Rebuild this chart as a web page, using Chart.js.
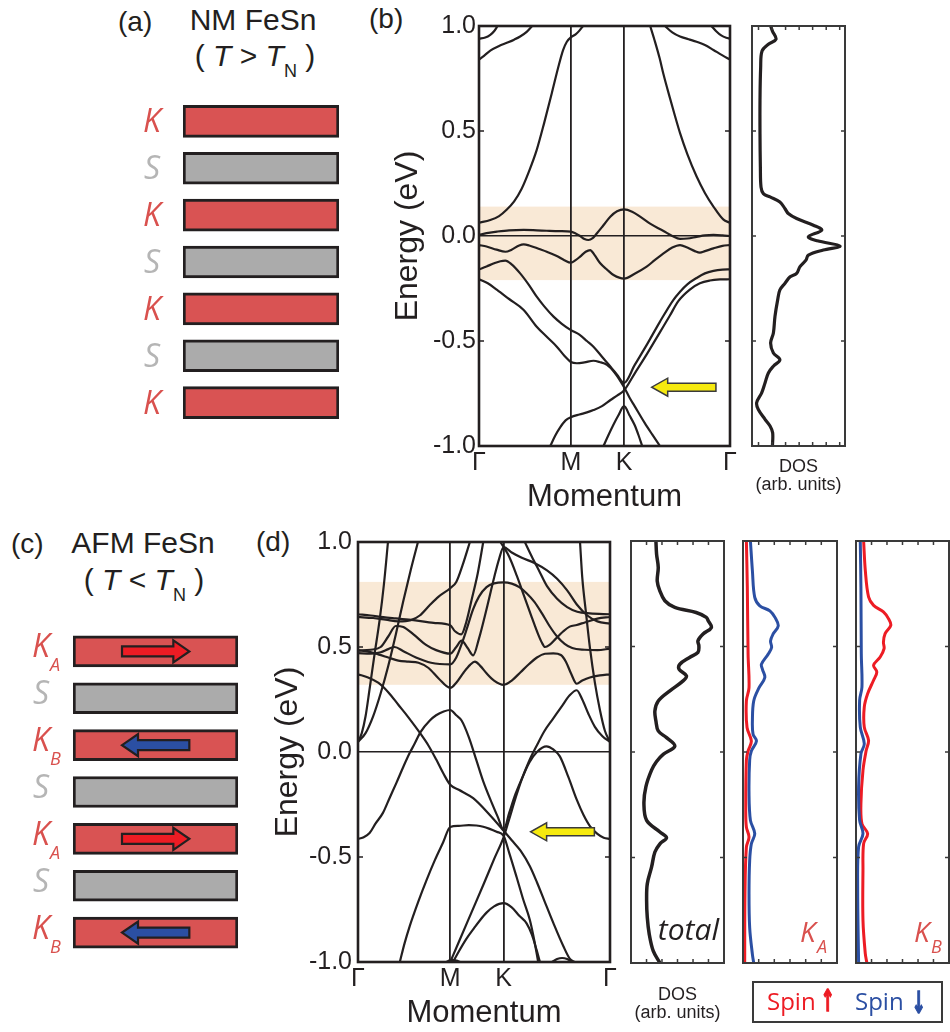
<!DOCTYPE html>
<html>
<head>
<meta charset="utf-8">
<script src="https://cdn.jsdelivr.net/npm/chart.js@4.4.1/dist/chart.umd.min.js"></script>
<style>
html,body{margin:0;padding:0;background:#fff;}
#page{position:relative;width:950px;height:1032px;overflow:hidden;background:#fff;font-family:"Liberation Sans",Arial,sans-serif;color:#231f20;}
.box{position:absolute;}
.box canvas{display:block;}
.t{position:absolute;white-space:nowrap;line-height:1;}
.it{font-style:italic;}
.os{font-family:"Open Sans",sans-serif;}
.arr{font-family:'DejaVu Sans';font-weight:bold;font-size:30px;-webkit-text-stroke:1.6px currentColor;transform:scaleX(0.55);}
</style>
</head>
<body>
<div id="page">
  <!-- panel (a) titles -->
  <div class="t" style="left:118px;top:8px;font-size:28px;">(a)</div>
  <div class="t" style="left:153px;top:5px;width:200px;text-align:center;font-size:30px;">NM FeSn</div>
  <div class="t" style="left:155px;top:41px;width:200px;text-align:center;font-size:30px;">( <span class="it">T</span> &gt; <span class="it">T</span><span style="font-size:18px;position:relative;top:11px;">N</span> )</div>
  <div class="t" style="left:369px;top:5px;font-size:28px;">(b)</div>

  <!-- panel (c)/(d) titles -->
  <div class="t" style="left:11px;top:530px;font-size:28px;">(c)</div>
  <div class="t" style="left:43px;top:528px;width:200px;text-align:center;font-size:30px;">AFM FeSn</div>
  <div class="t" style="left:44px;top:565px;width:200px;text-align:center;font-size:30px;">( <span class="it">T</span> &lt; <span class="it">T</span><span style="font-size:18px;position:relative;top:11px;">N</span> )</div>
  <div class="t" style="left:256px;top:528px;font-size:28px;">(d)</div>

  <!-- charts -->
  <div class="box" style="left:120px;top:90px;width:230px;height:345px;"><canvas id="cLayersNM"></canvas></div>
  <div class="box" style="left:10px;top:620px;width:230px;height:345px;"><canvas id="cLayersAFM"></canvas></div>
  <div class="box" style="left:370px;top:0px;width:370px;height:516px;"><canvas id="cBandNM"></canvas></div>
  <div class="box" style="left:742px;top:0px;width:113px;height:516px;"><canvas id="cDosNM"></canvas></div>
  <div class="box" style="left:250px;top:500px;width:370px;height:532px;"><canvas id="cBandAFM"></canvas></div>
  <div class="box" style="left:621px;top:500px;width:113px;height:532px;"><canvas id="cDosTot"></canvas></div>
  <div class="box" style="left:733px;top:500px;width:114px;height:532px;"><canvas id="cDosKA"></canvas></div>
  <div class="box" style="left:846px;top:500px;width:104px;height:532px;"><canvas id="cDosKB"></canvas></div>

  <!-- spin legend -->
  <div class="box" style="left:752px;top:981px;width:191px;height:42px;border:2px solid #3a3a3a;box-sizing:border-box;"></div>
  <div class="t os" style="left:767px;top:989px;font-size:24px;color:#ed1c24;">Spin</div>
  <div class="t arr" style="left:815px;top:986px;color:#ed1c24;">↑</div>
  <div class="t os" style="left:855px;top:989px;font-size:24px;color:#2b4fa3;">Spin</div>
  <div class="t arr" style="left:906px;top:988px;color:#2b4fa3;">↓</div>
</div>

<script>
// ===================== DATA =====================
const kTicks = [0, 36.6, 57.8, 100];
const kTickLabels = ['Γ', 'M', 'K', 'Γ'];
const kSymmetryLines = [36.6, 57.8];
const energyTicks = [-1, -0.5, 0, 0.5, 1];
const energyInnerTicks = [-0.5, 0.5];
const dosEnergyTicks = [-0.5, 0, 0.5];
const nmDosTicks = [0.07, 0.216, 0.361, 0.507, 0.652, 0.798, 0.943];
const afmDosTicks = [0.167, 0.333, 0.5, 0.667, 0.833];

const nmShade = [-0.21, 0.14];
const afmShade = [0.32, 0.81];
const nmArrow = [68.8, 94.4, -0.72];   // tip k, tail k, energy
const afmArrow = [68.5, 93.8, -0.38];

const nmLayers = ['K', 'S', 'K', 'S', 'K', 'S', 'K'];
const afmLayers = ['K_A', 'S', 'K_B', 'S', 'K_A', 'S', 'K_B'];
const nmSpins = [0, 0, 0, 0, 0, 0, 0];
const afmSpins = [1, 0, -1, 0, 1, 0, -1];
const spinSpan = [0.297, 0.705];

// ---- NM FeSn bands (k, E) ----
const nmBand1 = [[0,0.94],[2.5,0.945],[4.5,0.958],[6,0.975],[7.4,1.0]];
const nmBand2 = [[0,0.84],[2,0.858],[4.5,0.883],[8,0.905],[11.1,0.92],[14,0.935],[16.4,0.95],[19,0.972],[21.2,1.0]];
const nmBand3 = [[0,0.063],[4.5,0.076],[8,0.095],[11,0.125],[14,0.165],[17,0.225],[20,0.31],[23,0.41],[26,0.54],[29,0.68],[31.5,0.8],[33.5,0.885],[35,0.925],[36.6,0.946],[38.5,0.96],[40,0.978],[41.4,1.0]];
const nmBand4 = [[68.2,1.0],[70,0.93],[72,0.845],[73.5,0.77],[76,0.66],[78,0.575],[80.1,0.49],[83,0.39],[86.7,0.283],[90,0.205],[93.4,0.14],[97.3,0.079],[100,0.063]];
const nmBand5 = [[74.1,1.0],[77,0.97],[80.1,0.95],[83.5,0.937],[86.7,0.925],[90,0.91],[93.4,0.886],[97,0.86],[100,0.84]];
const nmBand6 = [[92.6,1.0],[94.5,0.975],[96.5,0.955],[98.5,0.944],[100,0.94]];
const nmBand7 = [[0,0.005],[3,0.014],[7.2,0.021],[12,0.027],[17.8,0.029],[23,0.027],[27,0.025],[32,0.023],[36.6,0.021],[38.5,0.012],[40.3,0.0],[42,-0.014],[43.6,-0.019],[45.3,-0.01],[47,0.013],[49.5,0.05],[52.3,0.092],[55,0.118],[57.8,0.127],[61,0.116],[64.2,0.092],[68,0.06],[73.5,0.024],[77,0.0],[80.1,-0.014],[83,-0.012],[86.7,-0.004],[90,0.003],[93.4,0.005],[97,0.003],[100,0.0]];
const nmBand8 = [[0,-0.043],[3,-0.05],[7,-0.065],[10.5,-0.075],[13,-0.065],[16,-0.045],[17.8,-0.04],[20,-0.045],[24,-0.062],[27,-0.075],[31,-0.095],[34,-0.115],[36.6,-0.127],[38.5,-0.115],[40.3,-0.098],[42.5,-0.075],[44.3,-0.067],[46,-0.09],[48.3,-0.13],[51,-0.16],[53.6,-0.186],[57.8,-0.203],[62,-0.18],[66.8,-0.146],[70,-0.115],[73.5,-0.083],[77,-0.055],[80.1,-0.043],[83,-0.055],[86,-0.072],[88,-0.079],[90,-0.072],[93.4,-0.059],[97,-0.047],[100,-0.043]];
const nmBand9 = [[0,-0.159],[3,-0.145],[6,-0.13],[8.5,-0.12],[10.5,-0.117],[13,-0.135],[16.4,-0.178],[20,-0.235],[23,-0.289],[26,-0.335],[29.7,-0.384],[33,-0.418],[36.6,-0.448],[40,-0.47],[43,-0.5],[45.6,-0.527],[49,-0.575],[52.4,-0.622],[55,-0.66],[57.8,-0.7],[62,-0.615],[67,-0.515],[72,-0.41],[77.4,-0.305],[80.1,-0.265],[83,-0.23],[86.7,-0.2],[90,-0.178],[93.4,-0.166],[97,-0.16],[100,-0.159]];
const nmBand10 = [[0,-0.206],[3.5,-0.225],[7.2,-0.257],[12,-0.3],[17.8,-0.352],[23,-0.432],[27,-0.48],[31,-0.527],[34,-0.57],[36.6,-0.6],[39,-0.606],[42,-0.602],[45.6,-0.594],[48,-0.6],[51,-0.614],[54,-0.65],[57.8,-0.72],[60,-0.77],[62,-0.81],[66,-0.89],[69,-0.945],[72.1,-1.0]];
const nmBand11 = [[28.4,-1.0],[30.4,-0.95],[32.4,-0.91],[34.5,-0.878],[36.6,-0.863],[40,-0.85],[43,-0.84],[45.6,-0.829],[49,-0.81],[52.4,-0.781],[55,-0.76],[57.8,-0.735],[62,-0.655],[67,-0.56],[72,-0.46],[76,-0.38],[79.4,-0.31],[84,-0.255],[88,-0.225],[92,-0.212],[96,-0.207],[100,-0.206]];
const nmBand12 = [[49.6,-1.0],[51.5,-0.95],[53.5,-0.9],[55.5,-0.855],[57.8,-0.81],[60,-0.855],[62,-0.9],[63.6,-0.95],[65,-1.0]];

// ---- AFM FeSn bands (k, E) ----
const afmE1 = [[0,0.048],[1.5,0.09],[3,0.17],[4.6,0.3],[6.5,0.46],[8.6,0.63],[10.3,0.8],[11.9,1.0]];
const afmE2 = [[0,0.048],[3,0.09],[6,0.17],[9,0.28],[12,0.41],[15,0.56],[18,0.72],[21,0.87],[23.8,1.0]];
const afmA = [[0,0.656],[5,0.65],[10,0.642],[15,0.636],[22,0.628],[30,0.615],[36.6,0.603],[38.5,0.575],[41,0.56],[43,0.62],[45,0.72],[47.5,0.85],[49.7,1.0]];
const afmB = [[0,0.643],[6,0.638],[11,0.63],[16,0.622],[21,0.628],[24.5,0.65],[28.5,0.7],[32,0.74],[36.6,0.78],[39,0.81],[41.5,0.89],[44.4,1.0]];
const afmC = [[0,0.484],[5,0.487],[9,0.5],[12,0.55],[15,0.6],[18,0.595],[22,0.56],[27,0.51],[31,0.485],[36.6,0.468],[39,0.5],[41.1,0.53],[43.5,0.495],[45.7,0.46],[48,0.54],[51,0.68],[54,0.83],[56,0.92],[57.8,0.976],[61,0.95],[65,0.925],[70,0.9],[75,0.865],[79,0.825],[83,0.77],[87,0.7],[91,0.65],[95,0.622],[100,0.611]];
const afmD = [[0,0.471],[5,0.468],[9,0.475],[12,0.49],[14.5,0.5],[18,0.48],[23,0.45],[29,0.425],[36.6,0.417],[39,0.45],[41,0.51],[43,0.58],[45.7,0.68],[48,0.74],[51,0.785],[54,0.803],[57.8,0.808],[61,0.802],[64,0.785],[67,0.755],[70,0.715],[73,0.66],[76,0.6],[79,0.55],[82,0.515],[85,0.495],[90,0.487],[95,0.485],[100,0.492]];
const afmG = [[0,0.484],[4,0.478],[8,0.465],[12,0.45],[16,0.435],[20,0.43],[24,0.425],[28,0.4],[32,0.35],[36.6,0.305],[39,0.33],[42,0.38],[44.5,0.415],[46.4,0.43],[48.5,0.41],[51,0.375],[54,0.34],[57.8,0.32],[61,0.34],[64.5,0.38],[68,0.42],[71,0.45],[74.2,0.468],[77.5,0.47],[80.5,0.462],[82.5,0.43],[84.5,0.375],[86.8,0.325],[89,0.34],[92,0.355],[96,0.365],[100,0.37]];
const afmH = [[56.5,1.0],[57.8,0.976],[60,0.93],[63,0.84],[66,0.74],[69,0.64],[71.5,0.56],[73,0.52],[74.2,0.5],[76,0.51],[78.5,0.54],[81.5,0.575],[84,0.597],[86.8,0.605],[90,0.617],[95,0.635],[100,0.643]];
const afmI = [[66.2,1.0],[69,0.93],[72,0.86],[75,0.79],[79,0.73],[83,0.69],[87,0.668],[92,0.66],[100,0.656]];
const afmE3 = [[88.1,1.0],[89,0.83],[90.5,0.66],[92,0.5],[94,0.33],[96,0.2],[98,0.1],[100,0.048]];
const afmX1 = [[0,0.37],[4,0.355],[8,0.33],[12,0.285],[16,0.225],[20,0.165],[24.8,0.087],[28,0.03],[31,-0.035],[34,-0.105],[36.6,-0.156],[40,-0.18],[45.7,-0.22],[52.3,-0.3],[57.8,-0.375],[61,-0.42],[64.5,-0.47],[68.2,-0.544],[71,-0.62],[74,-0.71],[77.5,-0.814],[81.5,-0.925],[84.1,-0.985],[86,-1.0]];
const afmX2 = [[0,-0.414],[2,-0.407],[4.6,-0.386],[7,-0.34],[9.9,-0.29],[12.5,-0.22],[15.2,-0.148],[18,-0.07],[20.5,-0.005],[22.5,0.04],[24.8,0.095],[28.5,0.15],[31,0.175],[34,0.193],[36.6,0.2],[39,0.175],[41.1,0.15],[44,0.07],[47,-0.04],[49.7,-0.14],[53,-0.24],[55.5,-0.31],[57.8,-0.37],[60,-0.29],[62.5,-0.2],[65.6,-0.11],[68,-0.04],[70.9,0.03],[74,0.1],[77.5,0.16],[81,0.22],[84,0.27],[86.8,0.294],[89,0.25],[91.5,0.18],[94,0.12],[97,0.075],[100,0.048]];
const afmY = [[36.6,-1.0],[40,-0.905],[45,-0.765],[50,-0.625],[54,-0.51],[57.8,-0.405],[60,-0.32],[62.5,-0.22],[65,-0.13],[68,-0.05],[71,0.0],[74.8,0.027],[77.5,0.012],[80.1,-0.021],[83.5,-0.12],[86.8,-0.227],[89.5,-0.3],[92.1,-0.354],[95,-0.39],[97.5,-0.408],[100,-0.414]];
const afmF = [[16.6,-1.0],[18.5,-0.91],[20.5,-0.83],[24,-0.71],[27.2,-0.61],[30.5,-0.515],[33.8,-0.43],[36.6,-0.357],[40,-0.352],[44,-0.348],[47,-0.35],[49.7,-0.356],[52,-0.365],[55,-0.38],[57.8,-0.4],[60,-0.48],[62.9,-0.594],[65.5,-0.7],[68.2,-0.8],[70,-0.9],[71.5,-1.0]];
const afmV = [[37.7,-1.0],[40,-0.95],[43,-0.89],[46,-0.84],[48.5,-0.8],[51,-0.765],[54,-0.735],[57.8,-0.72],[61,-0.74],[64,-0.78],[66.9,-0.816],[69,-0.87],[70.8,-0.94],[72.2,-1.0]];
const afmS1 = [[77,-1.0],[79,-0.986],[81,-0.981],[83,-0.986],[85,-1.0]];
const afmS2 = [[35,-1.0],[37,-0.99],[39,-0.993],[40.5,-1.0]];

// ---- DOS (energy, value) ----
const nmDosE = [1.0,0.976,0.937,0.913,0.881,0.802,0.644,0.486,0.328,0.233,0.202,0.186,0.162,0.13,0.107,0.083,0.051,0.028,-0.004,-0.023,-0.048,-0.067,-0.091,-0.115,-0.146,-0.178,-0.194,-0.225,-0.257,-0.304,-0.383,-0.462,-0.51,-0.557,-0.589,-0.62,-0.652,-0.7,-0.747,-0.794,-0.826,-0.873,-0.905,-0.937,-1.0];
const nmDos  = [0.2,0.22,0.258,0.176,0.108,0.093,0.086,0.086,0.09,0.097,0.122,0.194,0.3,0.355,0.39,0.48,0.66,0.75,0.606,0.703,0.946,0.767,0.606,0.58,0.516,0.48,0.41,0.355,0.3,0.276,0.247,0.23,0.2,0.23,0.3,0.23,0.176,0.14,0.104,0.05,0.068,0.14,0.194,0.222,0.22];
const afmTotE = [1.0,0.938,0.875,0.81,0.764,0.717,0.685,0.661,0.638,0.622,0.59,0.559,0.527,0.503,0.472,0.448,0.416,0.392,0.361,0.337,0.29,0.242,0.195,0.147,0.1,0.068,0.028,-0.011,-0.045,-0.086,-0.165,-0.244,-0.324,-0.379,-0.406,-0.435,-0.474,-0.546,-0.625,-0.705,-0.784,-0.863,-0.943,-1.0];
const afmTot  = [0.268,0.275,0.293,0.282,0.31,0.364,0.471,0.7,0.81,0.83,0.864,0.775,0.72,0.73,0.72,0.63,0.525,0.518,0.596,0.56,0.418,0.293,0.257,0.268,0.293,0.382,0.471,0.346,0.275,0.221,0.16,0.139,0.168,0.311,0.382,0.311,0.257,0.221,0.175,0.168,0.175,0.196,0.239,0.311];
const kaDnE = [1.0,0.859,0.733,0.693,0.669,0.638,0.598,0.559,0.527,0.495,0.464,0.416,0.392,0.353,0.305,0.242,0.147,0.084,0.052,0.005,-0.038,-0.197,-0.324,-0.387,-0.435,-0.514,-0.673,-0.832,-0.959,-1.0];
const kaDn  = [0.079,0.1,0.125,0.179,0.286,0.34,0.375,0.32,0.293,0.304,0.268,0.196,0.207,0.232,0.171,0.114,0.1,0.107,0.143,0.089,0.071,0.064,0.079,0.125,0.089,0.071,0.064,0.071,0.1,0.114];
const kaUpE = [1.0,0.78,0.464,0.305,0.242,0.116,0.052,0.005,-0.038,-0.276,-0.356,-0.403,-0.451,-0.673,-1.0];
const kaUp  = [0.036,0.046,0.054,0.064,0.036,0.043,0.089,0.054,0.036,0.029,0.036,0.064,0.036,0.021,0.018];
const kbUpE = [1.0,0.861,0.735,0.695,0.664,0.632,0.6,0.561,0.521,0.49,0.45,0.411,0.379,0.34,0.276,0.213,0.118,0.055,0.008,-0.087,-0.245,-0.34,-0.387,-0.434,-0.561,-0.798,-0.956,-1.0];
const kbUp  = [0.082,0.1,0.135,0.189,0.295,0.349,0.374,0.313,0.295,0.302,0.26,0.189,0.224,0.189,0.125,0.089,0.089,0.135,0.11,0.075,0.053,0.064,0.125,0.082,0.075,0.075,0.1,0.117];
const kbDnE = [1.0,0.782,0.466,0.308,0.245,0.118,0.039,-0.008,-0.166,-0.324,-0.387,-0.45,-0.64,-1.0];
const kbDn  = [0.046,0.053,0.057,0.064,0.039,0.046,0.089,0.053,0.028,0.039,0.075,0.028,0.018,0.028];

const nmBands = [nmBand1,nmBand2,nmBand3,nmBand4,nmBand5,nmBand6,nmBand7,nmBand8,nmBand9,nmBand10,nmBand11,nmBand12];
const afmBands = [afmE1,afmE2,afmA,afmB,afmC,afmD,afmG,afmH,afmI,afmE3,afmX1,afmX2,afmY,afmF,afmV,afmS1,afmS2];

// ===================== STYLE =====================
const INK = '#231f20';
const LAYER_RED = '#d95353';
const LAYER_GRAY = '#ababab';
const LABEL_RED = '#d9514e';
const LABEL_GRAY = '#b5b5b5';
const SPIN_RED = '#ed1c24';
const SPIN_BLUE = '#2b4fa3';
const SHADE = '#f9e9d6';
const FONT = '"Liberation Sans", Arial, sans-serif';
Chart.defaults.font.family = FONT;
Chart.defaults.color = INK;

// ===================== PLUGINS =====================
function blockArrow(ctx, xTail, xTip, y, shaftH, headH, headL, fill, stroke, lw) {
  const dir = Math.sign(xTip - xTail);
  const hb = xTip - dir * headL;
  ctx.beginPath();
  ctx.moveTo(xTail, y - shaftH / 2);
  ctx.lineTo(hb, y - shaftH / 2);
  ctx.lineTo(hb, y - headH / 2);
  ctx.lineTo(xTip, y);
  ctx.lineTo(hb, y + headH / 2);
  ctx.lineTo(hb, y + shaftH / 2);
  ctx.lineTo(xTail, y + shaftH / 2);
  ctx.closePath();
  ctx.fillStyle = fill; ctx.fill();
  ctx.lineJoin = 'miter'; ctx.lineWidth = lw; ctx.strokeStyle = stroke; ctx.stroke();
}

const shadePlugin = {
  id: 'shade',
  beforeDraw(chart, args, o) {
    const {ctx, chartArea: a, scales: {y}} = chart;
    const y1 = y.getPixelForValue(o.range[1]), y0 = y.getPixelForValue(o.range[0]);
    ctx.save(); ctx.fillStyle = o.color; ctx.fillRect(a.left, y1, a.right - a.left, y0 - y1); ctx.restore();
  }
};
const framePlugin = {
  id: 'frame',
  afterDatasetsDraw(chart, args, o) {
    const {ctx, chartArea: a} = chart;
    ctx.save(); ctx.lineWidth = o.width; ctx.strokeStyle = o.color;
    ctx.strokeRect(a.left, a.top, a.right - a.left, a.bottom - a.top); ctx.restore();
  }
};
const innerTicksPlugin = {
  id: 'innerTicks',
  afterDatasetsDraw(chart, args, o) {
    const {ctx, chartArea: a, scales: {x, y}} = chart;
    ctx.save(); ctx.lineWidth = o.width; ctx.strokeStyle = o.color; ctx.beginPath();
    (o.yVals || []).forEach(v => { const p = y.getPixelForValue(v);
      ctx.moveTo(a.left, p); ctx.lineTo(a.left + o.len, p); ctx.moveTo(a.right, p); ctx.lineTo(a.right - o.len, p); });
    (o.xVals || []).forEach(v => { const p = x.getPixelForValue(v);
      ctx.moveTo(p, a.top); ctx.lineTo(p, a.top + o.len); ctx.moveTo(p, a.bottom); ctx.lineTo(p, a.bottom - o.len); });
    ctx.stroke(); ctx.restore();
  }
};
const pointerPlugin = {
  id: 'pointer',
  afterDatasetsDraw(chart, args, o) {
    const {ctx, scales: {x, y}} = chart;
    ctx.save();
    blockArrow(ctx, x.getPixelForValue(o.at[1]), x.getPixelForValue(o.at[0]), y.getPixelForValue(o.at[2]), 8, 18, 16, '#f6ea0f', '#3a3a3a', 1.5);
    ctx.restore();
  }
};
const cornerTextPlugin = {
  id: 'cornerText',
  afterDatasetsDraw(chart, args, o) {
    const {ctx, chartArea: a} = chart;
    ctx.save(); ctx.textBaseline = 'alphabetic';
    o.items.forEach(it => {
      ctx.font = it.font; ctx.fillStyle = it.color; ctx.textAlign = it.align;
      ctx.fillText(it.text, a.right - it.fromRight, a.bottom - it.fromBottom);
    });
    ctx.restore();
  }
};
const layerLabelPlugin = {
  id: 'layerLabels',
  afterDatasetsDraw(chart, args, o) {
    const {ctx, chartArea: a, scales: {y}} = chart;
    ctx.save();
    chart.data.labels.forEach((lab, i) => {
      const [main, sub] = lab.split('_');
      const py = y.getPixelForValue(i);
      ctx.fillStyle = main === 'S' ? LABEL_GRAY : LABEL_RED;
      ctx.font = 'italic 32px "Open Sans"'; ctx.textAlign = 'center'; ctx.textBaseline = 'alphabetic';
      ctx.fillText(main, a.left - o.dx, py + o.baseDy);
      if (sub) {
        ctx.font = 'italic 18px "Open Sans"'; ctx.textAlign = 'left';
        ctx.fillText(sub, a.left - o.subDx, py + o.subDy);
      }
    });
    ctx.restore();
  }
};
const spinArrowPlugin = {
  id: 'spinArrows',
  afterDatasetsDraw(chart, args, o) {
    const {ctx, scales: {x, y}} = chart;
    ctx.save();
    o.spins.forEach((s, i) => {
      if (!s) return;
      const py = y.getPixelForValue(i);
      const x0 = x.getPixelForValue(o.span[0]), x1 = x.getPixelForValue(o.span[1]);
      if (s > 0) blockArrow(ctx, x0, x1, py, 10, 22, 16, SPIN_RED, INK, 2.2);
      else blockArrow(ctx, x1, x0, py, 10, 22, 16, SPIN_BLUE, INK, 2.2);
    });
    ctx.restore();
  }
};

// ===================== CHART BUILDERS =====================
const base = {responsive: true, maintainAspectRatio: false, animation: false, devicePixelRatio: 1, events: []};

function layerChart(id, layers, spins, pad, thick, lab) {
  return new Chart(document.getElementById(id), {
    type: 'bar',
    data: {labels: layers, datasets: [{
      data: layers.map(() => [0, 1]),
      backgroundColor: layers.map(l => l === 'S' ? LAYER_GRAY : LAYER_RED),
      borderColor: INK, borderWidth: 3, borderSkipped: false, barThickness: thick
    }]},
    options: Object.assign({}, base, {
      indexAxis: 'y',
      layout: {padding: pad},
      scales: {x: {type: 'linear', min: 0, max: 1, display: false}, y: {type: 'category', display: false}},
      plugins: {legend: {display: false}, tooltip: {enabled: false},
        layerLabels: lab, spinArrows: {spins: spins, span: spinSpan}}
    }),
    plugins: [layerLabelPlugin, spinArrowPlugin]
  });
}

function bandChart(id, bands, shade, arrow, padTop, yW, tickPad) {
  return new Chart(document.getElementById(id), {
    type: 'scatter',
    data: {datasets: bands.map(b => ({
      data: b.map(p => ({x: p[0], y: p[1]})),
      showLine: true, pointRadius: 0, borderColor: INK, borderWidth: 2.2,
      cubicInterpolationMode: 'monotone', fill: false
    }))},
    options: Object.assign({}, base, {
      layout: {padding: {left: 0, right: 10, top: padTop, bottom: 0}},
      scales: {
        x: {type: 'linear', min: 0, max: 100,
          afterBuildTicks: s => { s.ticks = kTicks.map(v => ({value: v})); },
          afterFit: s => { s.height = 70; },
          ticks: {autoSkip: false, maxRotation: 0, minRotation: 0, padding: 2, font: {size: 25}, color: INK,
            callback: (v, i) => kTickLabels[i]},
          grid: {drawTicks: false, lineWidth: 1.8,
            color: c => (c.tick && kSymmetryLines.includes(c.tick.value)) ? INK : 'rgba(0,0,0,0)'},
          border: {display: false},
          title: {display: true, text: 'Momentum', color: INK, font: {size: 31}, padding: {top: 0, bottom: 0}}
        },
        y: {type: 'linear', min: -1, max: 1,
          afterBuildTicks: s => { s.ticks = energyTicks.map(v => ({value: v})); },
          afterFit: s => { s.width = yW; },
          ticks: {padding: tickPad, font: {size: 25}, color: INK, callback: v => v.toFixed(1)},
          grid: {drawTicks: false, lineWidth: 1.6,
            color: c => (c.tick && c.tick.value === 0) ? INK : 'rgba(0,0,0,0)'},
          border: {display: false},
          title: {display: true, text: 'Energy (eV)', color: INK, font: {size: 32}, padding: {top: 18.8, bottom: 0}}
        }
      },
      plugins: {legend: {display: false}, tooltip: {enabled: false},
        shade: {range: shade, color: SHADE},
        frame: {width: 2.6, color: INK},
        innerTicks: {yVals: energyInnerTicks, len: 5, width: 1.5, color: INK},
        pointer: {at: arrow}}
    }),
    plugins: [shadePlugin, framePlugin, innerTicksPlugin, pointerPlugin]
  });
}

function dosChart(id, series, padTop, xTicks, titleCfg, corner) {
  const showX = !!titleCfg;
  return new Chart(document.getElementById(id), {
    type: 'scatter',
    data: {datasets: series.map(s => ({
      data: s.E.map((e, i) => ({x: s.v[i], y: e})),
      showLine: true, pointRadius: 0, borderColor: s.color, borderWidth: s.w, tension: 0.35, fill: false
    }))},
    options: Object.assign({}, base, {
      layout: {padding: {left: 10, right: series.padRight || 10, top: padTop, bottom: showX ? 0 : 69}},
      scales: {
        x: {type: 'linear', min: 0, max: 1, display: showX,
          afterFit: s => { s.height = titleCfg ? titleCfg.h : 0; },
          ticks: {display: false}, grid: {display: false}, border: {display: false},
          title: {display: showX, text: ['DOS', '(arb. units)'], color: INK,
            font: {size: 18, lineHeight: 1}, padding: {top: 0, bottom: titleCfg ? titleCfg.pb : 0}}
        },
        y: {type: 'linear', min: -1, max: 1, display: false}
      },
      plugins: {legend: {display: false}, tooltip: {enabled: false},
        frame: {width: 2, color: '#3a3a3a'},
        innerTicks: {yVals: dosEnergyTicks, xVals: xTicks, len: 4, width: 1.5, color: '#3a3a3a'},
        cornerText: {items: corner || []}}
    }),
    plugins: [framePlugin, innerTicksPlugin, cornerTextPlugin]
  });
}

// ===================== BUILD =====================
layerChart('cLayersNM', nmLayers, nmSpins, {left: 63, right: 11, top: 8, bottom: 9}, 32,
  {dx: 31, baseDy: 11, subDx: 0, subDy: 0});
layerChart('cLayersAFM', afmLayers, afmSpins, {left: 63, right: 2, top: 8, bottom: 9}, 31,
  {dx: 32, baseDy: 6, subDx: 23, subDy: 20});

bandChart('cBandNM', nmBands, nmShade, nmArrow, 26, 109, 3);
bandChart('cBandAFM', afmBands, afmShade, afmArrow, 42, 108, 6);

dosChart('cDosNM', [{E: nmDosE, v: nmDos, color: INK, w: 3.2}], 26, nmDosTicks, {h: 70, pb: 22});
dosChart('cDosTot', [{E: afmTotE, v: afmTot, color: INK, w: 3.5}], 41, afmDosTicks, {h: 69, pb: 10},
  [{text: 'total', font: 'italic 30px "Open Sans"', color: INK, align: 'right', fromRight: 5, fromBottom: 23}]);
dosChart('cDosKA', [{E: kaUpE, v: kaUp, color: SPIN_RED, w: 3}, {E: kaDnE, v: kaDn, color: SPIN_BLUE, w: 3}], 41, afmDosTicks, null,
  [{text: 'K', font: 'italic 28px "Open Sans"', color: LABEL_RED, align: 'left', fromRight: 37, fromBottom: 21},
   {text: 'A', font: 'italic 18px "Open Sans"', color: LABEL_RED, align: 'left', fromRight: 20, fromBottom: 10}]);
const kbSeries = [{E: kbDnE, v: kbDn, color: SPIN_BLUE, w: 3}, {E: kbUpE, v: kbUp, color: SPIN_RED, w: 3}];
kbSeries.padRight = 1;
dosChart('cDosKB', kbSeries, 41, afmDosTicks, null,
  [{text: 'K', font: 'italic 28px "Open Sans"', color: LABEL_RED, align: 'left', fromRight: 35, fromBottom: 21},
   {text: 'B', font: 'italic 18px "Open Sans"', color: LABEL_RED, align: 'left', fromRight: 18, fromBottom: 10}]);
</script>
</body>
</html>
